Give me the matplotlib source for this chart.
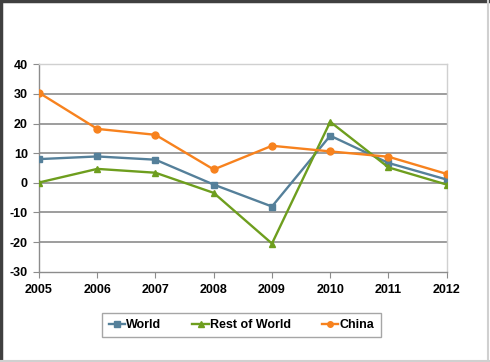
import matplotlib
matplotlib.use("Agg")
import matplotlib.pyplot as plt
from matplotlib.lines import Line2D

years = ["2005", "2006", "2007", "2008", "2009", "2010", "2011", "2012"]
world = [8.0, 8.9, 7.8, -0.6, -8.0, 15.9, 6.7, 1.1]
rest_of_world = [0.1, 4.7, 3.4, -3.4, -20.5, 20.6, 5.2, -0.6]
china = [30.4, 18.2, 16.2, 4.5, 12.5, 10.6, 8.8, 3.0]
yticks = [-30, -20, -10, 0, 10, 20, 30, 40]

c_world = "#55809A"
c_rest = "#6E9E1E"
c_china = "#F7821E"

plt.rcParams['font.family'] = ['Liberation Sans', 'DejaVu Sans']
plt.rcParams['axes.unicode_minus'] = False

W, H = 490, 362
fig = plt.figure(figsize=(W / 100, H / 100), dpi=100)
ax = fig.add_axes([39 / W, (H - 271.7) / H, (446.7 - 39) / W, (271.7 - 64.3) / H])

x = list(range(len(years)))
ax.plot(x, world, color=c_world, lw=1.7, marker="s", ms=5, label="World", zorder=3)
ax.plot(x, rest_of_world, color=c_rest, lw=1.7, marker="^", ms=5, label="Rest of World", zorder=3)
ax.plot(x, china, color=c_china, lw=1.7, marker="o", ms=5, label="China", zorder=3)

ax.set_xlim(0, len(years) - 1)
ax.set_ylim(-30, 40)
ax.set_yticks(yticks)
ax.set_xticks(x)
ax.set_xticklabels(years)
for g in yticks[1:-1]:
    ax.axhline(g, color="#8C8C8C", lw=1.2, zorder=1)

for lbl in ax.get_xticklabels() + ax.get_yticklabels():
    lbl.set_fontweight("bold")
    lbl.set_fontsize(9)
ax.tick_params(axis="x", length=4, color="#8C8C8C", pad=5)
ax.tick_params(axis="y", length=4, color="#8C8C8C", pad=4)

ax.spines["left"].set_color("#8C8C8C")
ax.spines["bottom"].set_color("#8C8C8C")
ax.spines["top"].set_color("#D0D0D0")
ax.spines["right"].set_color("#D0D0D0")
for s in ax.spines.values():
    s.set_linewidth(1.0)

handles = [
    Line2D([], [], color=c_world, lw=1.7, marker="s", ms=4),
    Line2D([], [], color=c_rest, lw=1.7, marker="^", ms=4),
    Line2D([], [], color=c_china, lw=1.7, marker="o", ms=4),
]
leg = fig.legend(handles, ["World", "Rest of World", "China"], ncol=3,
                 loc="center", bbox_to_anchor=((104 + 379) / 2 / W, 1 - 325 / H),
                 frameon=True, fancybox=False, handlelength=1.3, handletextpad=0.1,
                 columnspacing=2.5, prop={"weight": "bold", "size": 9},
                 borderpad=0.5, borderaxespad=0)
leg.get_frame().set_edgecolor("#909090")
leg.get_frame().set_linewidth(1.0)

# figure border
fig.add_artist(Line2D([0.5 / W, 0.5 / W], [0, 1], color="#404040", lw=2.5, transform=fig.transFigure))
fig.add_artist(Line2D([0, 1], [1 - 0.5 / H, 1 - 0.5 / H], color="#404040", lw=2.5, transform=fig.transFigure))
fig.add_artist(Line2D([1 - 2 / W, 1 - 2 / W], [0, 1], color="#D0D0D0", lw=1.5, transform=fig.transFigure))
fig.add_artist(Line2D([0, 1], [1.5 / H, 1.5 / H], color="#D0D0D0", lw=1.5, transform=fig.transFigure))

fig.savefig("out.png", dpi=100)
